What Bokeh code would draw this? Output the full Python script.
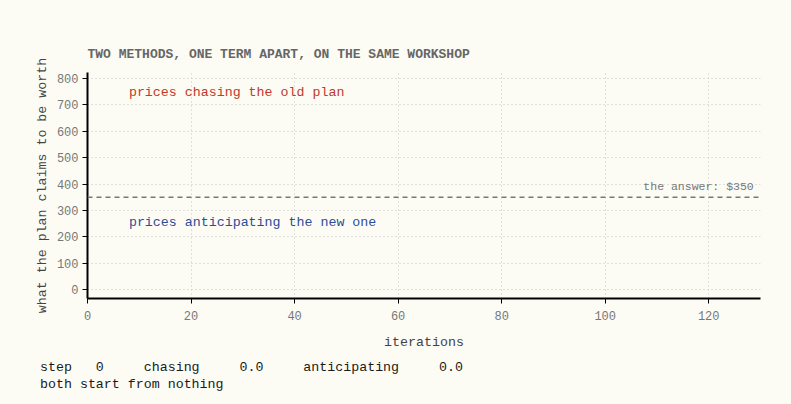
from bokeh.plotting import figure
from bokeh.models import Span, Label, SingleIntervalTicker, Div, Range1d
from bokeh.layouts import column
from bokeh.embed import file_html
from bokeh.resources import INLINE

# data (animation at step 0: both series start from nothing)
steps = [0]
chasing = [0.0]
anticipating = [0.0]
answer = 350
title_text = "TWO METHODS, ONE TERM APART, ON THE SAME WORKSHOP"
x_label = "iterations"
y_label = "what the plan claims to be worth"
chase_label = "prices chasing the old plan"
antic_label = "prices anticipating the new one"
answer_label = "the answer: $350"
status_line1 = "step   0     chasing     0.0     anticipating     0.0"
status_line2 = "both start from nothing"

BG = "#fcfcf5"
MONO = "Liberation Mono"
RED = "#c0392b"
BLUE = "#2b4c9b"

p = figure(width=775, height=344, output_backend="svg", toolbar_location=None,
           x_range=Range1d(0, 130), y_range=Range1d(-34, 823),
           min_border_left=79, min_border_right=23, min_border_top=64, min_border_bottom=54)
p.background_fill_color = BG
p.border_fill_color = BG
p.outline_line_color = None

p.title.text = title_text
p.title.text_font = MONO
p.title.text_font_size = "13px"
p.title.text_font_style = "bold"
p.title.text_color = "#666666"
p.title.offset = 0
p.title.standoff = 21

p.line(steps, chasing, line_color=RED, line_width=2)
p.line(steps, anticipating, line_color=BLUE, line_width=2)

p.add_layout(Span(location=answer, dimension="width", line_color="#777777",
                  line_width=1.5, line_dash="5 4"))
p.add_layout(Label(x=128.7, y=answer, y_offset=4, text=answer_label, text_align="right",
                   text_baseline="bottom", text_font=MONO, text_font_size="11.5px",
                   text_color="#777777"))
p.add_layout(Label(x=8, y=747, text=chase_label, text_baseline="middle",
                   text_font=MONO, text_font_size="13.3px", text_color=RED))
p.add_layout(Label(x=8, y=253, text=antic_label, text_baseline="middle",
                   text_font=MONO, text_font_size="13.3px", text_color=BLUE))

p.xaxis.ticker = SingleIntervalTicker(interval=20, num_minor_ticks=0)
p.yaxis.ticker = SingleIntervalTicker(interval=100, num_minor_ticks=0)
for ax in (p.xaxis, p.yaxis):
    ax.axis_line_color = "black"
    ax.axis_line_width = 2
    ax.major_tick_line_color = "black"
    ax.major_tick_out = 5
    ax.major_tick_in = 0
    ax.minor_tick_line_color = None
    ax.major_label_text_font = MONO
    ax.major_label_text_font_size = "12px"
    ax.major_label_text_color = "#777777"
    ax.axis_label_text_font = MONO
    ax.axis_label_text_font_size = "13.3px"
    ax.axis_label_text_font_style = "normal"
    ax.axis_label_text_color = "#444444"
p.xaxis.axis_label = x_label
p.yaxis.axis_label = y_label
p.xaxis.major_label_standoff = 7
p.xaxis.axis_label_standoff = 12
p.yaxis.major_label_standoff = 4
p.yaxis.axis_label_standoff = 4

for g in (p.xgrid, p.ygrid):
    g.grid_line_color = "#c4c4c4"
    g.grid_line_dash = "1 3"
    g.grid_line_width = 1

div = Div(text=(f'<pre style="margin:0;font-family:\'{MONO}\',monospace;font-size:13.3px;'
                f'line-height:17px;color:#1a1a1a;">{status_line1}\n{status_line2}</pre>'),
          margin=(7, 0, 0, 32), width=700)

layout = column(p, div, styles={"background-color": BG})
html = file_html(layout, INLINE)
html = html.replace("<head>", "<head><style>html,body{background:%s;}body{margin:8px !important;}</style>" % BG, 1)
open("out.html", "w").write(html)
